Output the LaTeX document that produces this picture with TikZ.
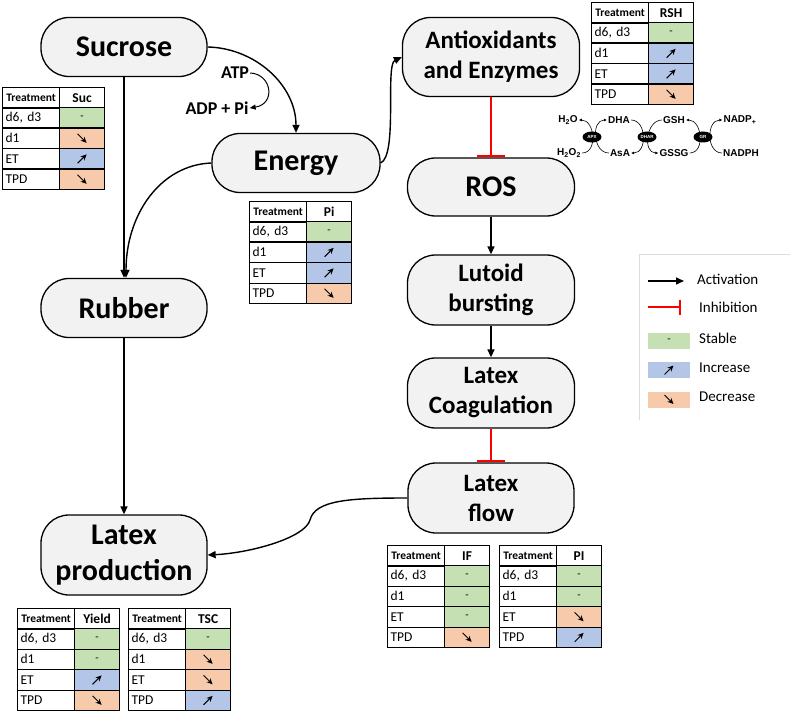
\documentclass[tikz,border=0pt]{standalone}
\usepackage{fontspec}
\setmainfont{Carlito}
\newfontfamily\cyclefont{Liberation Sans}
\usepackage{xcolor}
\usepackage{tikz}
\usetikzlibrary{arrows.meta, positioning, shapes.geometric}

\definecolor{nodegray}{HTML}{F2F2F2}
\definecolor{st0}{HTML}{C5E0B3}
\definecolor{st1}{HTML}{B4C6E7}
\definecolor{st2}{HTML}{F7CAAC}
\definecolor{legendline}{HTML}{D6DCE4}

\tikzset{
  box/.style={draw, line width=1.3pt, fill=nodegray, rounded corners=28pt, align=center,
    font=\bfseries\fontsize{30}{36}\selectfont, minimum width=166pt, minimum height=59pt, inner sep=0pt},
  midbox/.style={box, font=\bfseries\fontsize{25}{30}\selectfont, minimum height=70pt},
  act/.style={-{Triangle[length=8pt,width=7pt]}, line width=1.4pt},
  inh/.style={-{Bar[width=28pt,line width=2pt]}, red, line width=1.8pt},
  tcell/.style={draw, line width=1.2pt, anchor=north west, minimum height=20.5pt, inner sep=2pt,
    font=\fontsize{13.5}{15}\selectfont},
  cellarrow/.style={-{Stealth[length=6pt,width=5.5pt]}, line width=1pt},
  legtext/.style={anchor=west, inner sep=0pt, font=\fontsize{15}{17}\selectfont},
  legbox/.style={minimum width=42pt, minimum height=16pt, inner sep=0pt, font=\fontsize{11}{12}\selectfont},
  cyc/.style={font=\cyclefont\bfseries\fontsize{10}{12}\selectfont, inner sep=1pt},
  enz/.style={ellipse, fill=black, text=white, minimum width=19pt, minimum height=11pt, inner sep=0pt,
    font=\cyclefont\bfseries\fontsize{4.5}{5}\selectfont},
  cycarrow/.style={-{Latex[length=3pt,width=3pt]}, line width=0.6pt},
}

% table of treatments: top left, name, header, states (0 stable, 1 increase, 2 decrease)
\newcommand{\statetable}[4]{%
  \begin{scope}[shift={#1}]
    \node[tcell, minimum width=57pt, font=\bfseries\fontsize{11.5}{13}\selectfont] (#2-h) at (0,0) {Treatment};
    \node[tcell, minimum width=45pt, font=\bfseries\fontsize{13.5}{15}\selectfont] (#2-v) at (57,0) {#3};
    \foreach \st [count=\r] in {#4} {
      \node[tcell, minimum width=57pt, text width=51pt, align=left] (#2-l\r) at (0,{20+(\r-1)*20.5})
        {\ifcase\r\or d6, d3\or d1\or ET\or TPD\fi};
      \node[tcell, minimum width=45pt, fill=st\st] (#2-c\r) at (57,{20+(\r-1)*20.5})
        {\ifnum\st=0 \fontsize{11}{12}\selectfont-\fi};
      \ifnum\st=1 \draw[cellarrow] ([shift={(-4.5pt,-4.5pt)}]#2-c\r.center) -- ++(9,-9); \fi
      \ifnum\st=2 \draw[cellarrow] ([shift={(-4.5pt,4.5pt)}]#2-c\r.center) -- ++(9,9); \fi
    }
  \end{scope}}

\begin{document}
\begin{tikzpicture}[x=1pt, y=-1pt]
\useasboundingbox (0,0) rectangle (790,714);

% Main nodes
\node[box] (suc) at (124,47) {Sucrose};
\node[box] (rub) at (124,308) {Rubber};
\node[box, minimum height=80pt] (prod) at (124,555) {Latex\\production};
\node[box, minimum width=168pt] (ene) at (296,163) {Energy};
\node[midbox, minimum width=177pt, minimum height=79pt] (anti) at (491,57) {Antioxidants\\and Enzymes};
\node[box, minimum width=167pt, minimum height=58pt] (ros) at (491,187) {ROS};
\node[midbox, minimum width=167pt] (lut) at (491,290) {Lutoid\\bursting};
\node[midbox, minimum width=167pt] (coag) at (491,393) {Latex\\Coagulation};
\node[midbox] (flow) at (491,498) {Latex\\flow};

% ATP
\node[font=\bfseries\fontsize{18}{20}\selectfont, inner sep=1pt] (atp) at (235,73) {ATP};
\node[font=\bfseries\fontsize{18}{20}\selectfont, inner sep=1pt] (adp) at (217,108) {ADP + Pi};

% Connectors
\draw[act] (suc) -- (rub);
\draw[act] (ene.west) .. controls (160,165) and (126,215) .. ([xshift=2pt]rub.north);
\draw[act] (suc.east) .. controls (255,48) and (296,85) .. (ene.north);
\draw[-{Triangle[length=6pt,width=5pt]}, line width=1pt] (atp.east) .. controls (272,74) and (276,104) .. (adp.east);
\draw[act] (ene.east) .. controls (398,155) and (385,65) .. (anti.west);
\draw[inh] (anti) -- (ros);
\draw[act] (ros) -- (lut);
\draw[act] (lut) -- (coag);
\draw[inh] (coag) -- (flow);
\draw[act] (rub) -- (prod);
\draw[act] (flow.west) .. controls (350,498) and (315,500) .. (310,520)
  .. controls (305,538) and (250,553) .. (prod.east);

% Tables
\statetable{(2,87)}{suctab}{Suc}{0,2,1,2}
\statetable{(249,201)}{pitab}{Pi}{0,1,1,2}
\statetable{(591,2)}{rshtab}{RSH}{0,1,1,2}
\statetable{(387,545)}{iftab}{IF}{0,0,0,2}
\statetable{(499,545)}{plugtab}{PI}{0,0,2,1}
\statetable{(17,608)}{yieldtab}{Yield}{0,0,1,2}
\statetable{(128,608)}{tsctab}{TSC}{0,2,2,1}

% Ascorbate cycle
\node[cyc] (h2o) at (568,120) {H\textsubscript{2}O};
\node[cyc] (dha) at (619,120) {DHA};
\node[cyc] (gsh) at (674,120) {GSH};
\node[cyc] (nadp) at (740,120) {NADP\textsubscript{+}};
\node[cyc] (h2o2) at (569,153) {H\textsubscript{2}O\textsubscript{2}};
\node[cyc] (asa) at (620,153) {AsA};
\node[cyc] (gssg) at (674,153) {GSSG};
\node[cyc] (nadph) at (741,153) {NADPH};
\draw[cycarrow] (h2o2.east) .. controls +(16,0) and +(16,0) .. (h2o.east);
\draw[cycarrow] (asa.west) .. controls +(-16,0) and +(-16,0) .. (dha.west);
\draw[cycarrow] (dha.east) .. controls +(16,0) and +(16,0) .. (asa.east);
\draw[cycarrow] (gsh.west) .. controls +(-16,0) and +(-16,0) .. (gssg.west);
\draw[cycarrow] (gssg.east) .. controls +(16,0) and +(16,0) .. (gsh.east);
\draw[cycarrow] (nadph.west) .. controls +(-16,0) and +(-16,0) .. (nadp.west);
\node[enz] (apx) at (592,137) {APX};
\node[enz] (dhar) at (647,137) {DHAR};
\node[enz] (gr) at (703,137) {GR};

% Legend
\draw[legendline, line width=1pt] (790,255) -- (639,255) -- (639,420);
\coordinate (actA) at (648,281);
\coordinate (actB) at (684,281);
\draw[act] (actA) -- (actB);
\node[legtext] (actlab) at (697,279) {Activation};
\coordinate (inhA) at (648,307);
\coordinate (inhB) at (681,307);
\draw[red, line width=1.3pt, -{Bar[width=15pt,line width=1.8pt]}] (inhA) -- (inhB);
\node[legtext] (inhlab) at (699,307) {Inhibition};
\node[legbox, fill=st0] (lstable) at (669,340.5) {-};
\node[legtext] (stablab) at (699,338) {Stable};
\node[legbox, fill=st1] (lincr) at (669,370) {};
\draw[cellarrow] ([shift={(-4.5pt,-4.5pt)}]lincr.center) -- ++(9,-9);
\node[legtext] (incrlab) at (699,368) {Increase};
\node[legbox, fill=st2] (ldecr) at (669,399.5) {};
\draw[cellarrow] ([shift={(-4.5pt,4.5pt)}]ldecr.center) -- ++(9,9);
\node[legtext] (decrlab) at (699,397) {Decrease};
\end{tikzpicture}
\end{document}
